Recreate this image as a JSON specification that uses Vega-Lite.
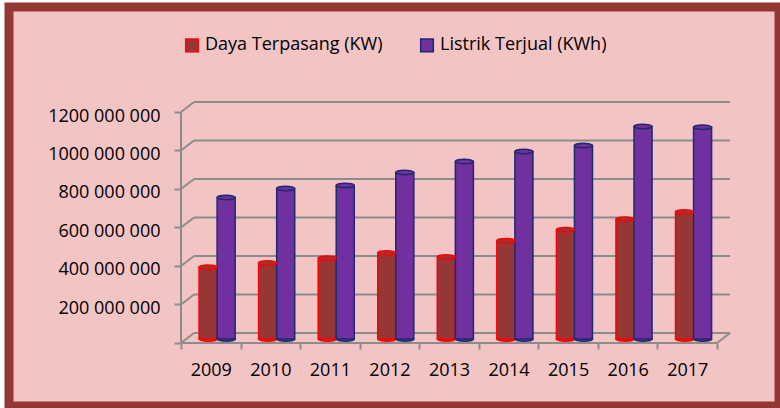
{
  "$schema": "https://vega.github.io/schema/vega-lite/v6.json",
  "width": 770,
  "height": 399,
  "autosize": "none",
  "padding": {"left": 9, "top": 7, "right": 1, "bottom": 2},
  "background": "#FFFFFF",
  "config": {
    "view": {"fill": "#F2C4C4", "stroke": "#953735", "strokeWidth": 9},
    "font": "Open Sans"
  },
  "datasets": {
    "bars": [
      {"year": "2009", "series": "Daya Terpasang (KW)", "value": 373000000},
      {"year": "2009", "series": "Listrik Terjual (KWh)", "value": 735000000},
      {"year": "2010", "series": "Daya Terpasang (KW)", "value": 395000000},
      {"year": "2010", "series": "Listrik Terjual (KWh)", "value": 782000000},
      {"year": "2011", "series": "Daya Terpasang (KW)", "value": 420000000},
      {"year": "2011", "series": "Listrik Terjual (KWh)", "value": 798000000},
      {"year": "2012", "series": "Daya Terpasang (KW)", "value": 447000000},
      {"year": "2012", "series": "Listrik Terjual (KWh)", "value": 865000000},
      {"year": "2013", "series": "Daya Terpasang (KW)", "value": 426000000},
      {"year": "2013", "series": "Listrik Terjual (KWh)", "value": 922000000},
      {"year": "2014", "series": "Daya Terpasang (KW)", "value": 511000000},
      {"year": "2014", "series": "Listrik Terjual (KWh)", "value": 974000000},
      {"year": "2015", "series": "Daya Terpasang (KW)", "value": 568000000},
      {"year": "2015", "series": "Listrik Terjual (KWh)", "value": 1005000000},
      {"year": "2016", "series": "Daya Terpasang (KW)", "value": 622000000},
      {"year": "2016", "series": "Listrik Terjual (KWh)", "value": 1104000000},
      {"year": "2017", "series": "Daya Terpasang (KW)", "value": 660000000},
      {"year": "2017", "series": "Listrik Terjual (KWh)", "value": 1100000000}
    ],
    "grid": [
      {"v": 0}, {"v": 200000000}, {"v": 400000000}, {"v": 600000000},
      {"v": 800000000}, {"v": 1000000000}, {"v": 1200000000}
    ],
    "one": [{"k": 1}]
  },
  "layer": [
    {
      "data": {"name": "grid"},
      "mark": {"type": "rule", "color": "#8C8C8C", "strokeWidth": 2, "xOffset": 13, "x2Offset": 13, "yOffset": -6, "y2Offset": -6},
      "encoding": {
        "x": {"datum": "2009", "type": "ordinal", "bandPosition": 0,
              "scale": {"domain": ["2009","2010","2011","2012","2013","2014","2015","2016","2017"], "paddingInner": 0, "paddingOuter": 0, "range": [172, 708]},
              "axis": {"title": null, "domain": false, "grid": false, "tickBand": "extent", "tickSize": 6, "tickWidth": 2, "tickColor": "#8C8C8C", "offset": -63, "labelAngle": 0, "labelFont": "Open Sans", "labelFontSize": 18, "labelColor": "#000000", "labelPadding": 12}},
        "x2": {"datum": "2017", "bandPosition": 1},
        "y": {"field": "v", "type": "quantitative",
              "scale": {"domain": [-348100000, 1724700000], "nice": false, "zero": false},
              "axis": {"title": null, "domain": false, "grid": false, "values": [0,200000000,400000000,600000000,800000000,1000000000,1200000000],
                       "labelExpr": "datum.value == 0 ? '' : floor(datum.value/1000000) + ' 000 000'",
                       "offset": -171, "tickSize": 6, "tickWidth": 2, "tickColor": "#8C8C8C", "tickOffset": 4, "labelOffset": 4,
                       "labelFont": "Open Sans", "labelFontSize": 18, "labelColor": "#000000", "labelPadding": 14}}
      }
    },
    {
      "data": {"name": "grid"},
      "mark": {"type": "rule", "color": "#8C8C8C", "strokeWidth": 2, "x2Offset": 13, "yOffset": 4, "y2Offset": -6},
      "encoding": {
        "x": {"datum": "2009", "type": "ordinal", "bandPosition": 0,
              "scale": {"domain": ["2009","2010","2011","2012","2013","2014","2015","2016","2017"], "paddingInner": 0, "paddingOuter": 0, "range": [172, 708]}},
        "x2": {"datum": "2009", "bandPosition": 0},
        "y": {"field": "v", "type": "quantitative", "scale": {"domain": [-348100000, 1724700000], "nice": false, "zero": false}},
        "y2": {"field": "v"}
      }
    },
    {
      "data": {"name": "one"},
      "mark": {"type": "rule", "color": "#8C8C8C", "strokeWidth": 2, "yOffset": 4, "y2Offset": 4},
      "encoding": {
        "x": {"datum": "2009", "type": "ordinal", "bandPosition": 0,
              "scale": {"domain": ["2009","2010","2011","2012","2013","2014","2015","2016","2017"], "paddingInner": 0, "paddingOuter": 0, "range": [172, 708]}},
        "x2": {"datum": "2017", "bandPosition": 1},
        "y": {"datum": 0, "type": "quantitative", "scale": {"domain": [-348100000, 1724700000], "nice": false, "zero": false}}
      }
    },
    {
      "data": {"name": "one"},
      "mark": {"type": "rule", "color": "#8C8C8C", "strokeWidth": 2, "x2Offset": 13, "yOffset": 4, "y2Offset": -6},
      "encoding": {
        "x": {"datum": "2017", "type": "ordinal", "bandPosition": 1,
              "scale": {"domain": ["2009","2010","2011","2012","2013","2014","2015","2016","2017"], "paddingInner": 0, "paddingOuter": 0, "range": [172, 708]}},
        "x2": {"datum": "2017", "bandPosition": 1},
        "y": {"datum": 0, "type": "quantitative", "scale": {"domain": [-348100000, 1724700000], "nice": false, "zero": false}},
        "y2": {"datum": 0}
      }
    },
    {
      "data": {"name": "one"},
      "mark": {"type": "rule", "color": "#8C8C8C", "strokeWidth": 2, "yOffset": 4, "y2Offset": 4},
      "encoding": {
        "x": {"datum": "2009", "type": "ordinal", "bandPosition": 0,
              "scale": {"domain": ["2009","2010","2011","2012","2013","2014","2015","2016","2017"], "paddingInner": 0, "paddingOuter": 0, "range": [172, 708]}},
        "y": {"datum": 0, "type": "quantitative", "scale": {"domain": [-348100000, 1724700000], "nice": false, "zero": false}},
        "y2": {"datum": 1200000000}
      }
    },
    {
      "data": {"name": "bars"},
      "mark": {"type": "point", "shape": "M-1,0A1,0.25,0,1,1,1,0A1,0.25,0,1,1,-1,0Z", "size": 324, "filled": true, "opacity": 1, "strokeWidth": 1.5},
      "encoding": {
        "x": {"field": "year", "type": "ordinal",
              "scale": {"domain": ["2009","2010","2011","2012","2013","2014","2015","2016","2017"], "paddingInner": 0, "paddingOuter": 0, "range": [172, 708]}},
        "xOffset": {"field": "series", "type": "nominal", "scale": {"paddingInner": 0, "paddingOuter": 0.65, "align": 0.77}},
        "y": {"datum": 0, "type": "quantitative", "scale": {"domain": [-348100000, 1724700000], "nice": false, "zero": false}},
        "fill": {"field": "series", "type": "nominal",
                 "scale": {"domain": ["Daya Terpasang (KW)", "Listrik Terjual (KWh)"], "range": ["#953735", "#7030A0"]}},
        "stroke": {"field": "series", "type": "nominal",
                   "scale": {"domain": ["Daya Terpasang (KW)", "Listrik Terjual (KWh)"], "range": ["#FF0000", "#1F2A6B"]}}
      }
    },
    {
      "data": {"name": "bars"},
      "mark": {"type": "bar", "strokeWidth": 1.5},
      "encoding": {
        "x": {"field": "year", "type": "ordinal",
              "scale": {"domain": ["2009","2010","2011","2012","2013","2014","2015","2016","2017"], "paddingInner": 0, "paddingOuter": 0, "range": [172, 708]}},
        "xOffset": {"field": "series", "type": "nominal", "scale": {"paddingInner": 0, "paddingOuter": 0.65, "align": 0.77}},
        "y": {"field": "value", "type": "quantitative", "scale": {"domain": [-348100000, 1724700000], "nice": false, "zero": false}},
        "fill": {"field": "series", "type": "nominal",
                 "scale": {"domain": ["Daya Terpasang (KW)", "Listrik Terjual (KWh)"], "range": ["#953735", "#7030A0"]},
                 "legend": {"orient": "none", "legendX": 174, "legendY": 29, "direction": "horizontal", "title": null,
                            "symbolType": "square", "symbolSize": 160, "symbolStrokeWidth": 1.5,
                            "labelFont": "Open Sans", "labelFontSize": 18, "labelColor": "#000000", "labelLimit": 300,
                            "columnPadding": 34, "labelOffset": 4}},
        "stroke": {"field": "series", "type": "nominal",
                   "scale": {"domain": ["Daya Terpasang (KW)", "Listrik Terjual (KWh)"], "range": ["#FF0000", "#1F2A6B"]},
                   "legend": {"orient": "none", "legendX": 174, "legendY": 29, "direction": "horizontal", "title": null,
                            "symbolType": "square", "symbolSize": 160, "symbolStrokeWidth": 1.5,
                            "labelFont": "Open Sans", "labelFontSize": 18, "labelColor": "#000000", "labelLimit": 300,
                            "columnPadding": 34, "labelOffset": 4}}
      }
    },
    {
      "data": {"name": "bars"},
      "mark": {"type": "point", "shape": "M-1,0A1,0.25,0,1,1,1,0A1,0.25,0,1,1,-1,0Z", "size": 324, "filled": true, "opacity": 1, "strokeWidth": 1.5},
      "encoding": {
        "x": {"field": "year", "type": "ordinal",
              "scale": {"domain": ["2009","2010","2011","2012","2013","2014","2015","2016","2017"], "paddingInner": 0, "paddingOuter": 0, "range": [172, 708]}},
        "xOffset": {"field": "series", "type": "nominal", "scale": {"paddingInner": 0, "paddingOuter": 0.65, "align": 0.77}},
        "y": {"field": "value", "type": "quantitative", "scale": {"domain": [-348100000, 1724700000], "nice": false, "zero": false}},
        "fill": {"field": "series", "type": "nominal",
                 "scale": {"domain": ["Daya Terpasang (KW)", "Listrik Terjual (KWh)"], "range": ["#953735", "#7030A0"]}},
        "stroke": {"field": "series", "type": "nominal",
                   "scale": {"domain": ["Daya Terpasang (KW)", "Listrik Terjual (KWh)"], "range": ["#FF0000", "#1F2A6B"]}}
      }
    }
  ]
}
